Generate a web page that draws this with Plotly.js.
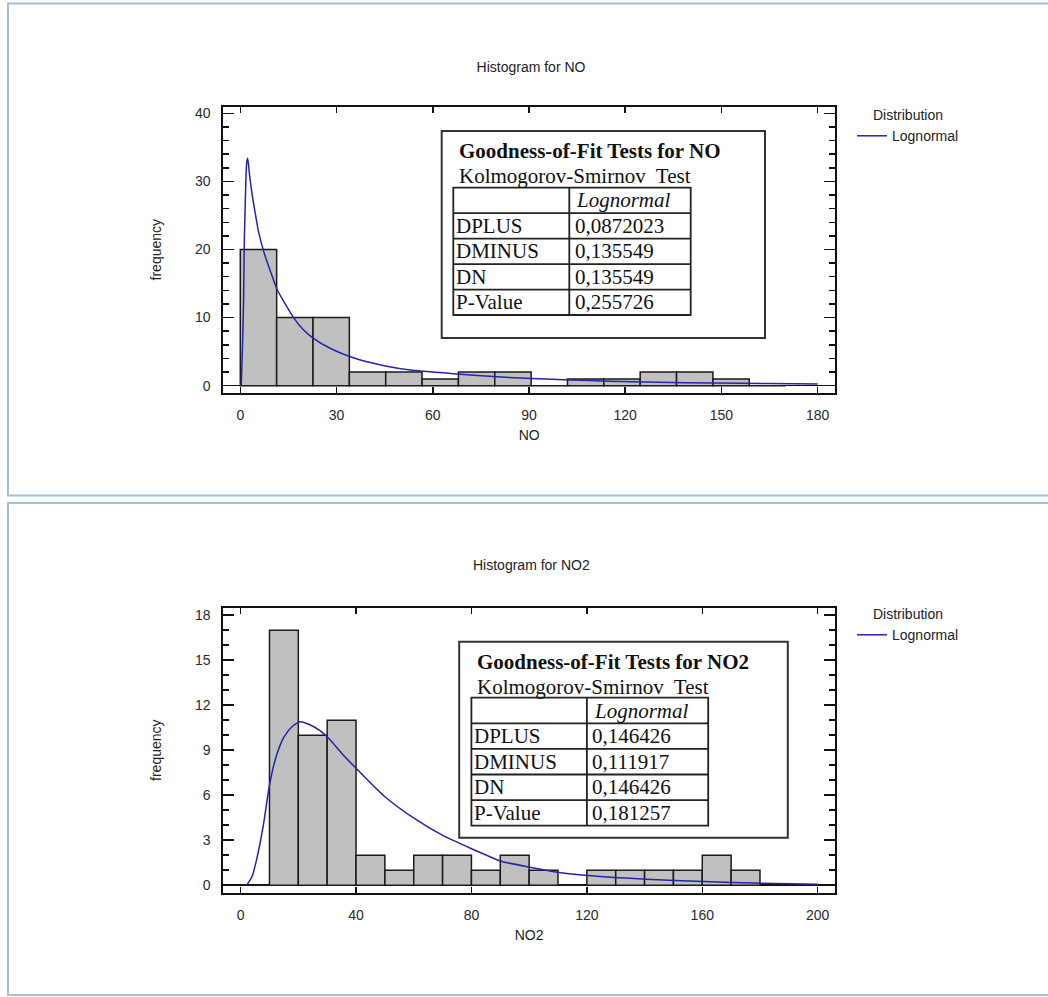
<!DOCTYPE html>
<html><head><meta charset="utf-8">
<script src="https://cdn.plot.ly/plotly-3.0.1.min.js"></script>
<style>html,body{margin:0;padding:0;background:#fff}#chart{width:1048px;height:997px}</style>
</head><body><div id="chart"></div>
<script>
// ---------- DATA ----------
// NO histogram: 15 equal bins over [0,170]
const noBinRange = [0, 170];
const noCounts = [20, 10, 10, 2, 2, 1, 2, 2, 0, 1, 1, 2, 2, 1, 0];
// Fitted lognormal curve for NO
const noFitX = [0.3, 0.7, 1.0, 1.25, 1.5, 1.8, 2.0, 2.3, 2.8, 3.6, 4.7, 5.7, 7.3, 9.4, 11.4, 14, 16.6, 19.5, 22.7, 28, 34.3, 40.5, 45.2, 53, 65.5, 80, 91, 103, 115, 130, 147, 165, 180];
const noFitY = [0, 6, 11.9, 21, 26, 31, 32.8, 33.4, 31.3, 28.4, 25.2, 22.6, 19.7, 16.8, 14.2, 12, 10, 8.3, 7, 5.5, 4.25, 3.4, 2.9, 2.3, 1.8, 1.3, 1.05, 0.85, 0.65, 0.5, 0.4, 0.32, 0.25];

// NO2 histogram: 18 equal bins over [0,180]
const no2BinRange = [0, 180];
const no2Counts = [0, 17, 10, 11, 2, 1, 2, 2, 1, 2, 1, 0, 1, 1, 1, 1, 2, 1];
const no2FitX = [2.1, 4, 5.5, 7.8, 9.9, 11.9, 14.8, 17.7, 20.6, 24, 27.5, 31, 35, 40.5, 50, 60.6, 70.2, 80.4, 90.3, 100.2, 110.4, 120.5, 140.6, 160.4, 180.9, 200];
const no2FitY = [0, 0.6, 1.67, 3.9, 6.55, 8.3, 9.8, 10.55, 10.9, 10.7, 10.3, 9.7, 8.8, 7.7, 5.9, 4.4, 3.3, 2.4, 1.6, 1.2, 0.85, 0.65, 0.4, 0.25, 0.13, 0.07];

// Goodness-of-fit tables
const statNames = ['DPLUS', 'DMINUS', 'DN', 'P-Value'];
const noStats = ['0,0872023', '0,135549', '0,135549', '0,255726'];
const no2Stats = ['0,146426', '0,111917', '0,146426', '0,181257'];
const distName = 'Lognormal';

// ---------- LAYOUT HELPERS ----------
const W = 1048, H = 997;
const px = x => x / W;
const py = y => 1 - y / H;
const sans = 'Liberation Sans, Arial, sans-serif';

function binBars(range, counts, xa, ya) {
  const w = (range[1] - range[0]) / counts.length;
  const xs = counts.map((c, i) => range[0] + w * (i + 0.5));
  return {
    type: 'bar', x: xs, y: counts, width: w, xaxis: xa, yaxis: ya,
    marker: {color: '#c0c0c0', line: {color: '#1a1a1a', width: 1.5}},
    showlegend: false, hoverinfo: 'x+y'
  };
}
function fitLine(xs, ys, xa, ya, leg) {
  return {
    type: 'scatter', mode: 'lines', x: xs, y: ys, xaxis: xa, yaxis: ya,
    name: distName, legend: leg,
    line: {color: '#2424a8', width: 1.5, shape: 'spline', smoothing: 0.6}
  };
}

const shapes = [];
const annotations = [];
const serif = 'Liberation Serif, Times New Roman, serif';
const tsize = 21;

function addTable(box, inner, title, values) {
  shapes.push({type: 'rect', xref: 'paper', yref: 'paper',
    x0: px(box.x0), x1: px(box.x1), y0: py(box.y0), y1: py(box.y1),
    line: {color: '#333', width: 2}, fillcolor: 'rgba(255,255,255,0.97)', layer: 'above'});
  annotations.push({xref: 'paper', yref: 'paper', x: px(box.x0 + 15.5), y: py(box.y0 + 20),
    xanchor: 'left', yanchor: 'middle', showarrow: false,
    text: '<b>' + title + '</b>', font: {family: serif, size: tsize, color: '#111'}});
  annotations.push({xref: 'paper', yref: 'paper', x: px(box.x0 + 15.5), y: py(box.y0 + 45),
    xanchor: 'left', yanchor: 'middle', showarrow: false,
    text: 'Kolmogorov-Smirnov  Test', font: {family: serif, size: tsize, color: '#111'}});
  const rows = statNames.length + 1;
  const y0 = inner.y0, rh = inner.rh, yEnd = y0 + rh * rows;
  shapes.push({type: 'rect', xref: 'paper', yref: 'paper',
    x0: px(inner.x0), x1: px(inner.x1), y0: py(y0), y1: py(yEnd),
    line: {color: '#222', width: 1.8}, layer: 'above'});
  shapes.push({type: 'line', xref: 'paper', yref: 'paper',
    x0: px(inner.split), x1: px(inner.split), y0: py(y0), y1: py(yEnd),
    line: {color: '#222', width: 1.8}, layer: 'above'});
  for (let r = 1; r < rows; r++) {
    shapes.push({type: 'line', xref: 'paper', yref: 'paper',
      x0: px(inner.x0), x1: px(inner.x1), y0: py(y0 + rh * r), y1: py(y0 + rh * r),
      line: {color: '#222', width: 1.8}, layer: 'above'});
  }
  annotations.push({xref: 'paper', yref: 'paper', x: px(inner.split + 5), y: py(y0 + rh * 0.5),
    xanchor: 'left', yanchor: 'middle', showarrow: false,
    text: '<i>' + distName + '</i>', font: {family: serif, size: tsize, color: '#111'}});
  statNames.forEach((n, i) => {
    const yc = py(y0 + rh * (i + 1.5));
    annotations.push({xref: 'paper', yref: 'paper', x: px(inner.x0 + 0.5), y: yc,
      xanchor: 'left', yanchor: 'middle', showarrow: false,
      text: n, font: {family: serif, size: tsize, color: '#111'}});
    annotations.push({xref: 'paper', yref: 'paper', x: px(inner.split + 3.5), y: yc,
      xanchor: 'left', yanchor: 'middle', showarrow: false,
      text: values[i], font: {family: serif, size: tsize, color: '#111'}});
  });
}

addTable({x0: 441.7, y0: 131, x1: 765, y1: 338}, {x0: 453.3, x1: 690.7, split: 569.3, y0: 187.7, rh: 25.46}, 'Goodness-of-Fit Tests for NO', noStats);
addTable({x0: 459.2, y0: 641.7, x1: 787.8, y1: 837.7}, {x0: 471.4, x1: 708.2, split: 586.9, y0: 697.7, rh: 25.6}, 'Goodness-of-Fit Tests for NO2', no2Stats);

// Panel borders
shapes.push({type: 'rect', xref: 'paper', yref: 'paper', x0: px(8), x1: px(1052), y0: py(3.5), y1: py(495.5),
  line: {color: '#9fc2da', width: 2}, layer: 'below'});
shapes.push({type: 'rect', xref: 'paper', yref: 'paper', x0: px(8), x1: px(1052), y0: py(503), y1: py(995),
  line: {color: '#9fc2da', width: 2}, layer: 'below'});

// Bottom chart title
annotations.push({xref: 'paper', yref: 'paper', x: px(531), y: py(565), xanchor: 'center', yanchor: 'middle',
  showarrow: false, text: 'Histogram for NO2', font: {family: sans, size: 14, color: '#222'}});

const tickFont = {family: sans, size: 14, color: '#2a2a2a'};
const titleFont = {family: sans, size: 14, color: '#222'};
function xAxis(domain, range, dtick, title, anchor) {
  return {domain, range, dtick, tick0: 0, anchor, showgrid: false, zeroline: false,
    showline: true, linecolor: '#111', linewidth: 2, mirror: 'allticks',
    ticks: 'inside', ticklen: 6, tickwidth: 1.5, tickcolor: '#111',
    ticklabelstandoff: 8, tickfont: tickFont,
    title: {text: title, font: titleFont, standoff: 9}, fixedrange: true};
}
function yAxis(domain, range, dtick, minor, anchor) {
  return {domain, range, dtick, tick0: 0, anchor, showgrid: false,
    zeroline: true, zerolinecolor: '#111', zerolinewidth: 1.5,
    showline: true, linecolor: '#111', linewidth: 2, mirror: 'allticks',
    ticks: 'inside', ticklen: 11, tickwidth: 1.5, tickcolor: '#111',
    minor: {dtick: minor, ticks: 'inside', ticklen: 6, tickwidth: 1.5, tickcolor: '#111', showgrid: false},
    ticklabelstandoff: 8, tickfont: tickFont,
    title: {text: 'frequency', font: titleFont, standoff: 30}, fixedrange: true};
}

const legendBase = (yTop) => ({x: px(852), y: py(yTop), xanchor: 'left', yanchor: 'top', bgcolor: 'rgba(0,0,0,0)',
  font: {family: sans, size: 14, color: '#222'},
  title: {text: 'Distribution', side: 'top center', font: {family: sans, size: 14, color: '#222'}}});

const layout = {
  width: W, height: H, margin: {l: 0, r: 0, t: 0, b: 0},
  paper_bgcolor: '#fff', plot_bgcolor: '#fff',
  font: {family: sans, color: '#222'},
  title: {text: 'Histogram for NO', x: px(531), xanchor: 'center', y: py(67), yanchor: 'middle',
    font: {family: sans, size: 14, color: '#222'}},
  bargap: 0,
  xaxis: xAxis([px(223.3), px(835)], [-5.3, 185.4], 30, 'NO', 'y'),
  yaxis: yAxis([py(392.7), py(106.7)], [-1.03, 40.97], 10, 2, 'x'),
  xaxis2: xAxis([px(223.3), px(835)], [-6, 206], 40, 'NO2', 'y2'),
  yaxis2: yAxis([py(892.7), py(607.7)], [-0.5, 18.5], 3, 1, 'x2'),
  legend: legendBase(102),
  legend2: legendBase(601),
  shapes, annotations
};

const data = [
  binBars(noBinRange, noCounts, 'x', 'y'),
  fitLine(noFitX, noFitY, 'x', 'y', 'legend'),
  binBars(no2BinRange, no2Counts, 'x2', 'y2'),
  fitLine(no2FitX, no2FitY, 'x2', 'y2', 'legend2')
];

Plotly.newPlot('chart', data, layout, {displayModeBar: false, staticPlot: true});
</script></body></html>
